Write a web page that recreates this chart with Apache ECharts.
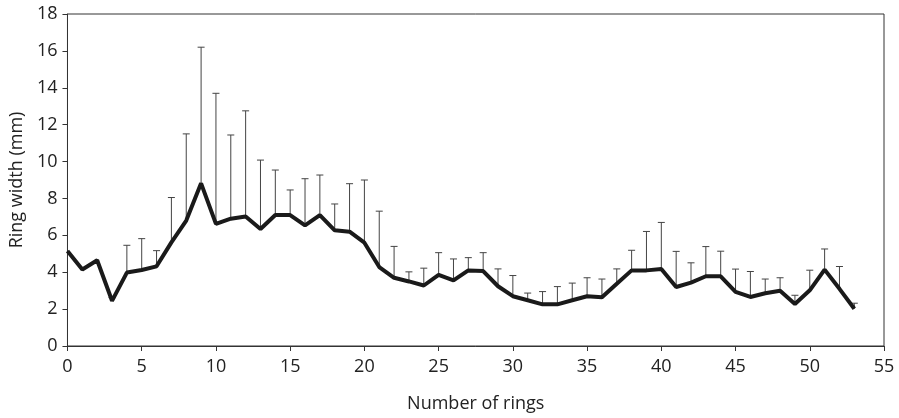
<!DOCTYPE html>
<html>
<head>
<meta charset="utf-8">
<script src="https://cdn.jsdelivr.net/npm/echarts@6/dist/echarts.min.js"></script>
<style>
  html, body { margin: 0; padding: 0; background: #fff; }
  #chart { width: 899px; height: 418px; }
</style>
</head>
<body>
<div id="chart"></div>
<script>
// ring number (x), mean ring width and top of the error bar
const rings = [0,1,2,3,4,5,6,7,8,9,10,11,12,13,14,15,16,17,18,19,20,21,22,23,24,25,26,27,28,29,30,31,32,33,34,35,36,37,38,39,40,41,42,43,44,45,46,47,48,49,50,51,52,53]
const ringWidth = [5.15,4.15,4.65,2.45,3.98,4.12,4.32,5.62,6.8,8.82,6.62,6.9,7.02,6.34,7.1,7.1,6.54,7.1,6.27,6.2,5.6,4.28,3.7,3.5,3.28,3.86,3.56,4.1,4.06,3.24,2.7,2.48,2.26,2.26,2.48,2.7,2.64,3.38,4.1,4.1,4.18,3.2,3.44,3.78,3.78,2.94,2.66,2.86,3.0,2.28,3.02,4.14,3.1,2.02]
const errorTop = [null,null,null,2.62,5.46,5.82,5.17,8.05,11.5,16.2,13.7,11.44,12.75,10.08,9.54,8.46,9.07,9.27,7.7,8.8,9.0,7.31,5.4,4.02,4.22,5.06,4.72,4.79,5.06,4.18,3.82,2.87,2.95,3.22,3.41,3.7,3.63,4.18,5.19,6.21,6.7,5.13,4.51,5.39,5.14,4.17,4.04,3.63,3.7,2.75,4.11,5.26,4.31,2.32]
const xTicks = { min: 0, max: 55, step: 5 }
const yTicks = { min: 0, max: 18, step: 2 }

const lineData = rings.map((r, i) => [r, ringWidth[i]])
const barData = rings.map((r, i) => [r, ringWidth[i], errorTop[i]]).filter(d => d[2] != null)

const axisFont = { color: '#222', fontSize: 18, fontFamily: 'Open Sans' }

const myChart = echarts.init(document.getElementById('chart'))
myChart.setOption({
  animation: false,
  grid: { left: 67, right: 15, top: 14, bottom: 70, show: true, borderColor: '#333', borderWidth: 1 },
  xAxis: {
    type: 'value',
    min: xTicks.min, max: xTicks.max, interval: xTicks.step,
    name: 'Number of rings', nameLocation: 'middle', nameGap: 49,
    nameTextStyle: axisFont,
    axisLine: { show: true, onZero: false, lineStyle: { color: '#333', width: 1 } },
    axisTick: { show: true, length: 5, lineStyle: { color: '#333' } },
    axisLabel: { ...axisFont, margin: 12 },
    splitLine: { show: false }
  },
  yAxis: {
    type: 'value',
    min: yTicks.min, max: yTicks.max, interval: yTicks.step,
    name: 'Ring width (mm)', nameLocation: 'middle', nameGap: 41, nameRotate: 90,
    nameTextStyle: axisFont,
    axisLine: { show: true, lineStyle: { color: '#333', width: 1 } },
    axisTick: { show: true, length: 5, lineStyle: { color: '#333' } },
    axisLabel: { ...axisFont, margin: 10 },
    splitLine: { show: false }
  },
  series: [
    {
      // error bars (upper only)
      type: 'custom',
      z: 1,
      data: barData,
      renderItem: function (params, api) {
        const low = api.coord([api.value(0), api.value(1)])
        const high = api.coord([api.value(0), api.value(2)])
        const half = 3.5
        const style = { stroke: '#444', lineWidth: 1 }
        return {
          type: 'group',
          children: [
            { type: 'line', shape: { x1: low[0], y1: low[1], x2: high[0], y2: high[1] }, style },
            { type: 'line', shape: { x1: high[0] - half, y1: high[1], x2: high[0] + half, y2: high[1] }, style }
          ]
        }
      }
    },
    {
      type: 'line',
      z: 3,
      data: lineData,
      symbol: 'none',
      lineStyle: { color: '#1a1a1a', width: 4 }
    }
  ]
})
</script>
</body>
</html>
